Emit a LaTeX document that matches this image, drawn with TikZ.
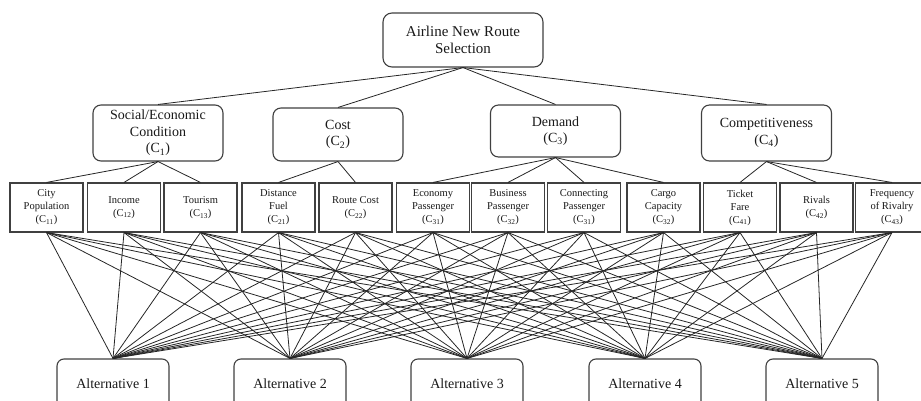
\documentclass[tikz,border=0pt]{standalone}
\usepackage{fontspec}
\setmainfont{Liberation Serif}
\begin{document}
\begin{tikzpicture}[x=1pt,y=-1pt,
  box/.style={draw=black!75, line width=1.1pt, fill=white, align=center, inner sep=0pt, text=black!90},
  topbox/.style={box, rounded corners=9pt, minimum width=160pt, minimum height=54pt, font=\fontsize{15}{17}\selectfont},
  critbox/.style={box, rounded corners=8pt, minimum width=130pt, font=\fontsize{14}{16.5}\selectfont},
  subbox/.style={box, minimum width=73pt, minimum height=49pt, font=\fontsize{10.5}{13}\selectfont},
  altbox/.style={box, rounded corners=7pt, minimum width=112pt, minimum height=50pt, font=\fontsize{14}{16}\selectfont},
  link/.style={draw=black!85, line width=0.8pt}]
\useasboundingbox (0,0) rectangle (921,401);
\clip (0,0) rectangle (921,401);

\node[topbox] (goal) at (463,40) {Airline New Route\\Selection};

\node[critbox, minimum height=56pt] (c1) at (158,133) {Social/Economic\\Condition\\(C\textsubscript{1})};
\node[critbox, minimum height=53pt] (c2) at (338,134.5) {Cost\\(C\textsubscript{2})};
\node[critbox, minimum height=52pt] (c3) at (555.5,131) {Demand\\(C\textsubscript{3})};
\node[critbox, minimum height=56pt] (c4) at (766.5,133) {Competitiveness\\(C\textsubscript{4})};

\node[subbox] (s11) at (46.5,207.5) {City\\Population\\(C\textsubscript{11})};
\node[subbox] (s12) at (124,207.5) {Income\\(C\textsubscript{12})};
\node[subbox] (s13) at (200.5,207.5) {Tourism\\(C\textsubscript{13})};
\node[subbox] (s21) at (278.5,207.5) {Distance\\Fuel\\(C\textsubscript{21})};
\node[subbox] (s22) at (355.5,207.5) {Route Cost\\(C\textsubscript{22})};
\node[subbox] (s31) at (433,207.5) {Economy\\Passenger\\(C\textsubscript{31})};
\node[subbox] (s32) at (508,207.5) {Business\\Passenger\\(C\textsubscript{32})};
\node[subbox] (s33) at (584,207.5) {Connecting\\Passenger\\(C\textsubscript{31})};
\node[subbox] (s34) at (663.5,207.5) {Cargo\\Capacity\\(C\textsubscript{32})};
\node[subbox] (s41) at (740,207.5) {Ticket\\Fare\\(C\textsubscript{41})};
\node[subbox] (s42) at (816.5,207.5) {Rivals\\(C\textsubscript{42})};
\node[subbox] (s43) at (892,207.5) {Frequency\\of Rivalry\\(C\textsubscript{43})};

\node[altbox] (a1) at (113,384) {Alternative 1};
\node[altbox] (a2) at (290,384) {Alternative 2};
\node[altbox] (a3) at (467,384) {Alternative 3};
\node[altbox] (a4) at (645,384) {Alternative 4};
\node[altbox] (a5) at (822,384) {Alternative 5};

\foreach \c in {c1,c2,c3,c4} \draw[link] (goal.south) -- (\c.north);
\foreach \s in {s11,s12,s13} \draw[link] (c1.south) -- (\s.north);
\foreach \s in {s21,s22} \draw[link] (c2.south) -- (\s.north);
\foreach \s in {s31,s32,s33,s34} \draw[link] (c3.south) -- (\s.north);
\foreach \s in {s41,s42,s43} \draw[link] (c4.south) -- (\s.north);
\foreach \s in {s11,s12,s13,s21,s22,s31,s32,s33,s34,s41,s42,s43}
  \foreach \a in {a1,a2,a3,a4,a5}
    \draw[link] (\s.south) -- (\a.north);
\end{tikzpicture}
\end{document}
